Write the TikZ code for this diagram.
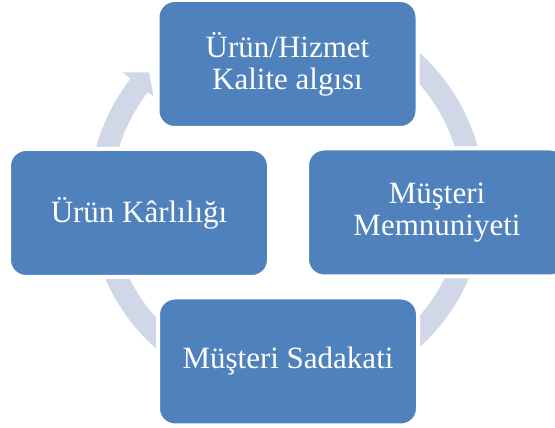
\documentclass[tikz,border=0pt]{standalone}
\usepackage{fontspec}
\setmainfont{Liberation Serif}
\usetikzlibrary{calc}
\definecolor{kutumavi}{HTML}{4F81BD}
\definecolor{halka}{HTML}{D0D8E8}

\begin{document}
\begin{tikzpicture}[x=1pt, y=1pt,
  kutu/.style={draw=white, line width=4pt, fill=kutumavi, rounded corners=17pt,
    minimum width=260pt, minimum height=128pt, align=center, text=white,
    font=\fontsize{31}{32}\selectfont}]
  \useasboundingbox (0,0) rectangle (555,428);
  % döngü halkası
  \coordinate (merkez) at (287,228);
  \draw[halka, line width=22pt] ($(merkez)+(60:187)$) arc[start angle=60, end angle=-218.5, radius=187];
  \fill[halka] ($(merkez)+(142.2:208)$) -- ($(merkez)+(137.2:188)$) -- ($(merkez)+(142.2:169)$) -- cycle;
  % kutular
  \node[kutu] (kalite) at (287.5,364) {Ürün/Hizmet\\Kalite algısı};
  \node[kutu] (memnuniyet) at (437,215.5) {Müşteri\\Memnuniyeti};
  \node[kutu] (sadakat) at (288,66.5) {Müşteri Sadakati};
  \node[kutu] (karlilik) at (139,215) {Ürün Kârlılığı};
\end{tikzpicture}
\end{document}
